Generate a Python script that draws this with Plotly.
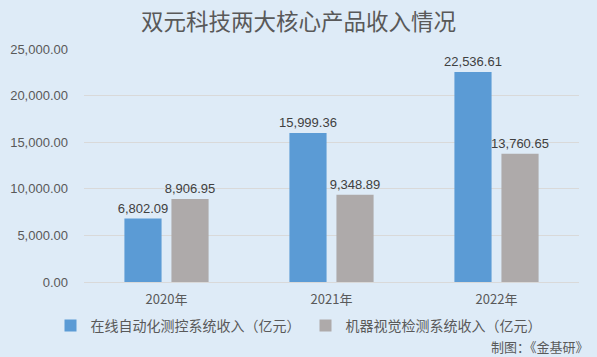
import plotly.graph_objects as go

categories = ["2020年", "2021年", "2022年"]
online_vals = [6802.09, 15999.36, 22536.61]
vision_vals = [8906.95, 9348.89, 13760.65]
series_names = ["在线自动化测控系统收入（亿元）", "机器视觉检测系统收入（亿元）"]
tick_vals = [0, 5000, 10000, 15000, 20000, 25000]
tick_text = ["0.00", "5,000.00", "10,000.00", "15,000.00", "20,000.00", "25,000.00"]
title_text = "双元科技两大核心产品收入情况"
source_text = "制图：《金基研》"

BG = "#DEEBF7"
FONT = "Liberation Sans"
CJK = "Noto Sans CJK SC"

fig = go.Figure()
fig.add_trace(go.Bar(
    x=categories, y=online_vals, name=series_names[0],
    marker=dict(color="#5B9BD5", line=dict(width=0)),
    text=[f"{v:,.2f}" for v in online_vals], textposition="outside",
    constraintext="none",
    textfont=dict(size=13, color="#404040", family=FONT), cliponaxis=False,
))
fig.add_trace(go.Bar(
    x=categories, y=vision_vals, name=series_names[1],
    marker=dict(color="#AEAAAA", line=dict(width=0)),
    text=[f"{v:,.2f}" for v in vision_vals], textposition="outside",
    constraintext="none",
    textfont=dict(size=13, color="#404040", family=FONT), cliponaxis=False,
))

fig.update_layout(
    width=597, height=357,
    paper_bgcolor=BG, plot_bgcolor=BG,
    margin=dict(l=84, r=18, t=49, b=75, autoexpand=False),
    barmode="group", bargap=0.43, bargroupgap=0.21,
    title=dict(text=title_text, x=0.5, xref="container", xanchor="center",
               y=1 - 22/357, yref="container", yanchor="middle",
               font=dict(size=22.5, color="#595959", family=CJK)),
    font=dict(family=FONT, color="#595959"),
    showlegend=True,
    legend=dict(orientation="h", xref="container", x=0.5, xanchor="center",
                yref="container", y=1 - 326/357, yanchor="middle",
                font=dict(size=14, color="#595959", family=CJK),
                itemwidth=30, tracegroupgap=0, bgcolor="rgba(0,0,0,0)"),
)
fig.update_yaxes(range=[0, 25000], tickvals=tick_vals, ticktext=tick_text,
                 showgrid=True, gridcolor="#D9D9D9", gridwidth=1,
                 zeroline=True, zerolinecolor="#D9D9D9", zerolinewidth=1,
                 showline=False, ticks="", ticklabelstandoff=15, automargin=False,
                 tickfont=dict(size=13, color="#595959", family=FONT))
fig.update_xaxes(showline=False, ticks="", showgrid=False, automargin=False,
                 ticklabelstandoff=8,
                 tickfont=dict(size=13, color="#595959", family=CJK))

fig.add_annotation(text=source_text, xref="paper", yref="paper",
                   x=(591 - 84) / (597 - 84 - 18), y=-(346 - 282) / (282 - 49),
                   xanchor="right", yanchor="middle", showarrow=False,
                   font=dict(size=13, color="#595959", family=CJK))

fig.write_html("out.html", config={"displayModeBar": False},
               post_script="document.body.style.margin='0';document.body.style.background='#DEEBF7';")
